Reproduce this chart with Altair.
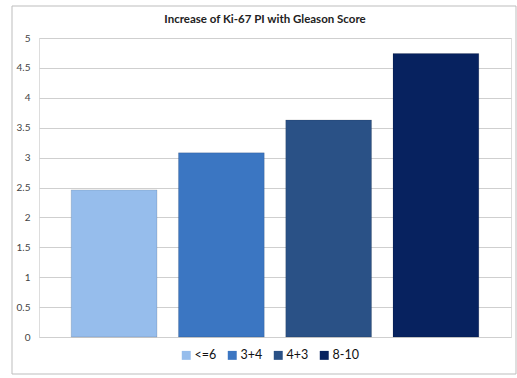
import altair as alt
import pandas as pd

# Gleason score groups and mean Ki-67 proliferation index
groups = ["<=6", "3+4", "4+3", "8-10"]
ki67 = [2.46, 3.08, 3.63, 4.74]
colors = ["#96BDEC", "#3B76C2", "#2A5186", "#07225F"]
y_ticks = [0, 0.5, 1, 1.5, 2, 2.5, 3, 3.5, 4, 4.5, 5]
title_text = "Increase of Ki-67 PI with Gleason Score"

df = pd.DataFrame({"group": groups, "ki67": ki67})

W, H = 472, 299
FONT = "Lato"

bars = alt.Chart(df).mark_bar(stroke="#000000", strokeOpacity=0.12, strokeWidth=1).encode(
    x=alt.X("group:N", sort=groups,
            scale=alt.Scale(paddingInner=0.2, paddingOuter=0.3),
            axis=None),
    y=alt.Y("ki67:Q",
            scale=alt.Scale(domain=[0, 5], nice=False),
            axis=alt.Axis(values=y_ticks, title=None, domain=False, ticks=False,
                          grid=True, gridColor="#cfcfcf", gridWidth=1,
                          format="~g",
                          labelFont=FONT, labelFontSize=10, labelColor="#444444",
                          labelPadding=9, labelOverlap=False)),
    color=alt.Color("group:N", sort=groups,
                    scale=alt.Scale(domain=groups, range=colors),
                    legend=alt.Legend(title=None, orient="none", direction="horizontal",
                                      legendX=141, legendY=311,
                                      symbolType="square", symbolSize=80,
                                      symbolStrokeWidth=0, labelFont=FONT,
                                      labelFontSize=12.5, labelColor="#111111",
                                      labelOffset=2, columnPadding=9)),
)

# chart title
title = alt.Chart(pd.DataFrame({"t": [title_text]})).mark_text(
    font=FONT, fontSize=11.5, fontWeight="bold", color="#222222",
    align="center", baseline="middle"
).encode(text="t:N", x=alt.value(226), y=alt.value(-18))

# outer chart frame
frame = alt.Chart(pd.DataFrame({"f": [0]})).mark_rect(
    fill=None, stroke="#bdbdbd", strokeWidth=1
).encode(
    x=alt.value(-27), x2=alt.value(477), y=alt.value(-32), y2=alt.value(336)
)

chart = alt.layer(bars, title, frame).properties(
    width=W, height=H,
    autosize=alt.AutoSizeParams(type="none"),
    padding={"left": 39, "top": 38, "right": 6, "bottom": 41},
).configure_view(stroke=None).configure(background="white")

chart.save("out.html", embed_options={"renderer": "svg", "actions": False})
